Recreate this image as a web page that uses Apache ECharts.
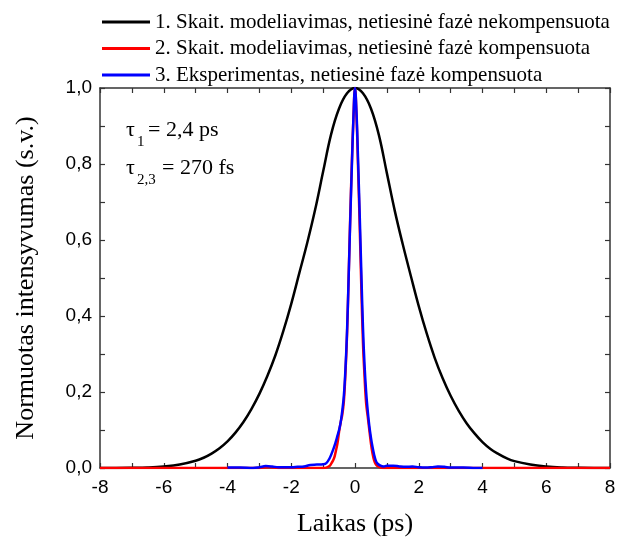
<!DOCTYPE html>
<html>
<head>
<meta charset="utf-8">
<script src="https://cdn.jsdelivr.net/npm/echarts@6/dist/echarts.min.js"></script>
<style>
html,body{margin:0;padding:0;background:#fff;}
#c{width:628px;height:538px;}
</style>
</head>
<body>
<div id="c"></div>
<script>
// ---- data ----
const seriesNames = [
  '1. Skait. modeliavimas, netiesinė fazė nekompensuota',
  '2. Skait. modeliavimas, netiesinė fazė kompensuota',
  '3. Eksperimentas, netiesinė fazė kompensuota'
];
// black: simulated, uncompensated
const tBlack = [-8,-7.5,-7,-6.5,-6,-5.5,-5,-4.75,-4.5,-4.25,-4,-3.75,-3.5,-3.25,-3,-2.75,-2.5,-2.25,-2,-1.75,-1.5,-1.25,-1,-0.75,-0.5,-0.25,0,
  0.25,0.5,0.75,1,1.25,1.5,1.75,2,2.25,2.5,2.75,3,3.25,3.5,3.75,4,4.25,4.5,4.75,5,5.5,6,6.5,7,7.5,8];
const iBlack = [0,0,0.0005,0.0015,0.004,0.009,0.019,0.027,0.038,0.052,0.07,0.093,0.121,0.155,0.195,0.242,0.296,0.36,0.432,0.512,0.592,0.68,0.78,0.878,0.946,0.986,1.0,
  0.986,0.946,0.876,0.776,0.676,0.588,0.506,0.426,0.354,0.29,0.236,0.19,0.151,0.118,0.091,0.068,0.05,0.037,0.026,0.018,0.009,0.004,0.0015,0.0005,0,0];
// red: simulated, compensated
const tRed = [-8,-3.0,-2.7,-2.4,-1.0,-0.9,-0.8,-0.75,-0.7,-0.65,-0.6,-0.55,-0.5,-0.45,-0.4,-0.35,-0.3,-0.25,-0.2,-0.15,-0.1,-0.05,0,
  0.05,0.1,0.15,0.2,0.25,0.3,0.35,0.4,0.45,0.5,0.55,0.6,0.65,0.7,0.8,0.9,8];
const iRed = [0,0,0.002,0,0,0.001,0.005,0.011,0.018,0.027,0.045,0.065,0.095,0.12,0.14,0.175,0.25,0.35,0.5,0.66,0.8,0.92,1.0,
  0.92,0.78,0.63,0.47,0.33,0.24,0.17,0.135,0.1,0.065,0.038,0.02,0.01,0.005,0.001,0,0];
// blue: experiment, compensated
const tBlue = [-4,-3.6,-3.2,-3.0,-2.8,-2.6,-2.4,-2.2,-2.0,-1.8,-1.6,-1.4,-1.2,-1.0,-0.9,-0.8,-0.7,-0.6,-0.55,-0.5,-0.45,-0.4,-0.35,-0.3,-0.25,-0.2,-0.15,-0.1,-0.05,0,
  0.05,0.1,0.15,0.2,0.25,0.3,0.35,0.4,0.45,0.5,0.55,0.6,0.65,0.7,0.8,0.9,1.0,1.2,1.4,1.6,1.8,2.0,2.2,2.4,2.6,2.8,3.0,3.4,3.8,4.0];
const iBlue = [0.001,0.001,0,0.002,0.005,0.004,0.002,0.002,0.002,0.003,0.004,0.008,0.009,0.01,0.013,0.025,0.045,0.07,0.085,0.1,0.12,0.15,0.19,0.26,0.36,0.5,0.65,0.79,0.92,1.0,
  0.93,0.8,0.66,0.51,0.37,0.27,0.2,0.15,0.11,0.08,0.055,0.035,0.02,0.012,0.006,0.004,0.006,0.006,0.004,0.003,0.004,0.002,0.001,0.002,0.004,0.003,0.001,0.001,0,0];
const xTicks = {min:-8, max:8, step:2};
const yTicks = {min:0, max:1, step:0.2};
const annot1 = {sym:'τ', sub:'1', rest:'= 2,4 ps'};
const annot2 = {sym:'τ', sub:'2,3', rest:'= 270 fs'};
const xTitle = 'Laikas (ps)';
const yTitle = 'Normuotas intensyvumas (s.v.)';

// ---- chart ----
const zip = (a,b) => a.map((v,i)=>[v,b[i]]);
const SERIF = "'Liberation Serif','Times New Roman',serif";
const SANS = "'Liberation Sans',Arial,sans-serif";
const frame = '#333';
const chart = echarts.init(document.getElementById('c'), null, {renderer:'canvas'});

function xAx(pos, labels){
  return {
    type:'value', position:pos, min:xTicks.min, max:xTicks.max, interval:xTicks.step,
    name: labels ? xTitle : '', nameLocation:'middle', nameGap:43,
    nameTextStyle:{fontFamily:SERIF, fontSize:26, color:'#000'},
    axisLine:{show:true, onZero:false, lineStyle:{color:frame, width:1.5}},
    axisTick:{show:true, inside:true, length:5, lineStyle:{color:frame, width:1.2}},
    minorTick:{show:true, splitNumber:2, length:5, lineStyle:{color:frame, width:1.2}},
    axisLabel:{show:labels, margin:10, fontFamily:SANS, fontSize:19, color:'#000'},
    splitLine:{show:false}, minorSplitLine:{show:false}
  };
}
function yAx(pos, labels){
  return {
    type:'value', position:pos, min:yTicks.min, max:yTicks.max, interval:yTicks.step,
    name: labels ? yTitle : '', nameLocation:'middle', nameGap:61, nameRotate:90,
    nameTextStyle:{fontFamily:SERIF, fontSize:26, color:'#000'},
    axisLine:{show:true, onZero:false, lineStyle:{color:frame, width:1.5}},
    axisTick:{show:true, inside:true, length:5, lineStyle:{color:frame, width:1.2}},
    minorTick:{show:true, splitNumber:2, length:5, lineStyle:{color:frame, width:1.2}},
    axisLabel:{show:labels, margin:8, fontFamily:SANS, fontSize:19, color:'#000',
      formatter:v=>v.toFixed(1).replace('.', ',')},
    splitLine:{show:false}, minorSplitLine:{show:false}
  };
}

const colors = ['#000000','#ff0000','#0000ff'];
const datas = [zip(tBlack,iBlack), zip(tRed,iRed), zip(tBlue,iBlue)];

const option = {
  animation:false,
  backgroundColor:'#fff',
  grid:{left:100, right:18, top:88, bottom:70, containLabel:false, outerBoundsMode:'none'},
  legend:{
    orient:'vertical', left:97, top:6, itemWidth:48, itemHeight:3, itemGap:4.5, icon:'rect',
    textStyle:{fontFamily:SERIF, fontSize:21, color:'#000', lineHeight:22},
    data:seriesNames.map((n,i)=>({name:n, icon:'rect', itemStyle:{color:colors[i]}}))
  },
  xAxis:[xAx('bottom', true), xAx('top', false)],
  yAxis:[yAx('left', true), yAx('right', false)],
  series: seriesNames.map((n,i)=>({
    name:n, type:'line', data:datas[i], symbol:'none', showSymbol:false,
    smooth:0.4, xAxisIndex:0, yAxisIndex:0,
    lineStyle:{color:colors[i], width:2.5}, itemStyle:{color:colors[i]}
  })),
  graphic:[
    {type:'text', left:126, top:119, style:{text:annot1.sym, fontFamily:SERIF, fontSize:22, fill:'#000'}},
    {type:'text', left:137, top:135, style:{text:annot1.sub, fontFamily:SERIF, fontSize:15, fill:'#000'}},
    {type:'text', left:148, top:119, style:{text:annot1.rest, fontFamily:SERIF, fontSize:22, fill:'#000'}},
    {type:'text', left:126, top:157, style:{text:annot2.sym, fontFamily:SERIF, fontSize:22, fill:'#000'}},
    {type:'text', left:137, top:173, style:{text:annot2.sub, fontFamily:SERIF, fontSize:15, fill:'#000'}},
    {type:'text', left:162, top:157, style:{text:annot2.rest, fontFamily:SERIF, fontSize:22, fill:'#000'}}
  ]
};
chart.setOption(option);
</script>
</body>
</html>
